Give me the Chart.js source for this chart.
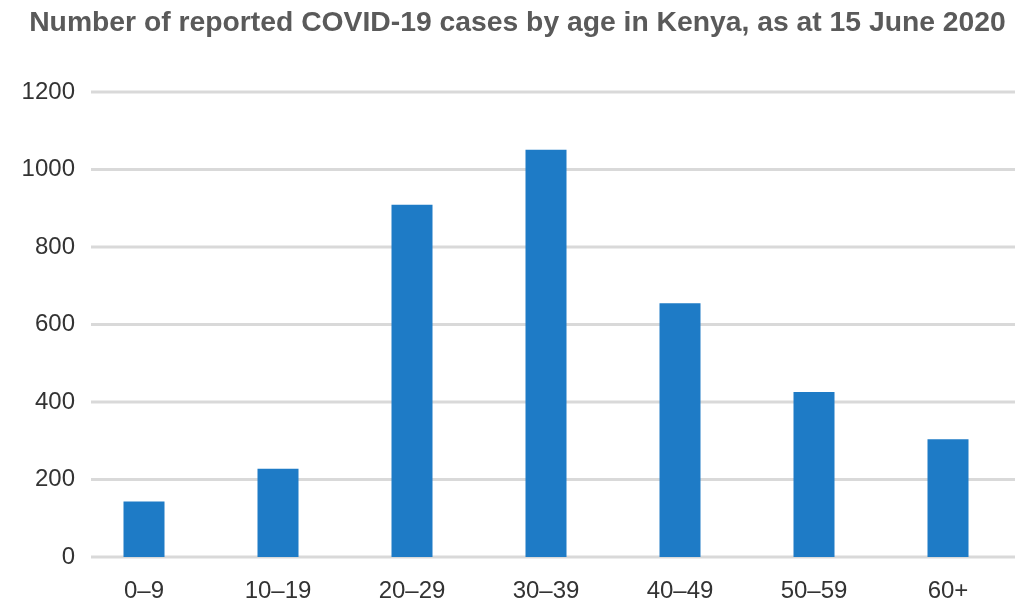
<!DOCTYPE html>
<html>
<head>
<meta charset="utf-8">
<script src="https://cdn.jsdelivr.net/npm/chart.js@4"></script>
<style>
  html, body { margin: 0; padding: 0; background: #fff; }
  #wrap { width: 1027px; height: 605px; }
</style>
</head>
<body>
<div id="wrap"><canvas id="cases-chart" width="1027" height="605"></canvas></div>
<script>
// Age groups and reported cases
const ageGroups = ['0–9', '10–19', '20–29', '30–39', '40–49', '50–59', '60+'];
const caseCounts = [143, 228, 909, 1051, 655, 426, 304];
const yTicks = [0, 200, 400, 600, 800, 1000, 1200];

// Grid lines start a bit right of the plot area, so draw them by hand
const gridLines = {
  id: 'gridLines',
  beforeDatasetsDraw(chart) {
    const ctx = chart.ctx;
    const y = chart.scales.y;
    const area = chart.chartArea;
    ctx.save();
    ctx.strokeStyle = '#d9d9d9';
    ctx.lineWidth = 3;
    yTicks.forEach(v => {
      const py = y.getPixelForValue(v);
      ctx.beginPath();
      ctx.moveTo(area.left + 14, py);
      ctx.lineTo(area.right, py);
      ctx.stroke();
    });
    ctx.restore();
  }
};

new Chart('cases-chart', {
  type: 'bar',
  data: {
    labels: ageGroups,
    datasets: [{
      data: caseCounts,
      backgroundColor: '#1e7bc6',
      categoryPercentage: 1,
      barPercentage: 0.306
    }]
  },
  options: {
    responsive: false,
    animation: false,
    layout: { padding: { left: 20, right: 12, top: 0, bottom: 0 } },
    plugins: {
      legend: { display: false },
      tooltip: { enabled: false },
      title: {
        display: true,
        text: 'Number of reported COVID-19 cases by age in Kenya, as at 15 June 2020',
        color: '#5a5a5a',
        font: { family: 'Liberation Sans, Arial', size: 28.3, weight: 'bold' },
        padding: { top: 6, bottom: 52 }
      }
    },
    scales: {
      x: {
        afterFit(scale) { scale.height = 48; },
        grid: { display: false },
        border: { display: false },
        ticks: {
          color: '#333',
          font: { family: 'Liberation Sans, Arial', size: 24 },
          padding: 12
        }
      },
      y: {
        min: 0,
        max: 1200,
        afterFit(scale) { scale.width = 57; },
        afterBuildTicks(scale) { scale.ticks = yTicks.map(v => ({ value: v })); },
        grid: { display: false, drawTicks: false },
        border: { display: false },
        ticks: {
          color: '#333',
          font: { family: 'Liberation Sans, Arial', size: 24 },
          padding: 2,
          callback: v => String(v)
        }
      }
    }
  },
  plugins: [gridLines]
});
</script>
</body>
</html>
